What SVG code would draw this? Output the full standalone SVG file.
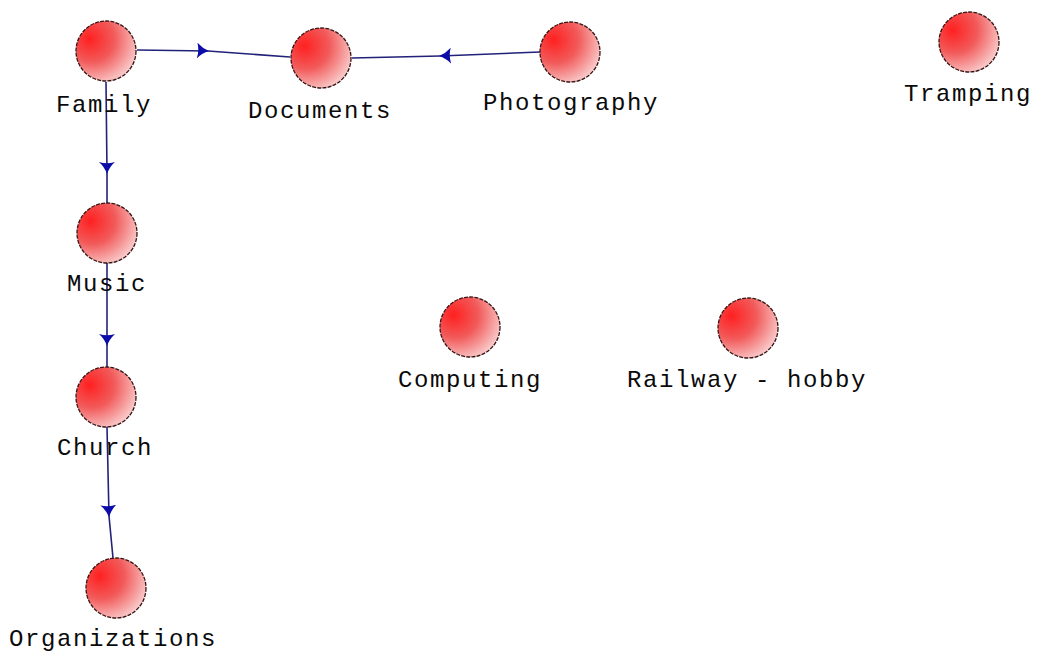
<svg xmlns="http://www.w3.org/2000/svg" width="1037" height="655" viewBox="0 0 1037 655">
  <defs>
    <radialGradient id="ball" cx="0.3" cy="0.3" r="0.85" fx="0.22" fy="0.3">
      <stop offset="0" stop-color="#ff2020"/>
      <stop offset="0.45" stop-color="#f25a5a"/>
      <stop offset="1" stop-color="#fbe0e0"/>
    </radialGradient>
    <marker id="arr" markerUnits="userSpaceOnUse" markerWidth="12" markerHeight="16" viewBox="0 0 12 16" refX="11" refY="8" orient="auto">
      <path d="M0,0 Q5,5.5 12,8 Q5,10.5 0,16 Q2.5,8 0,0 Z" fill="#0c0ca8"/>
    </marker>
    <style>
      .node circle { fill: url(#ball); stroke: #3a1414; stroke-width: 1.3; stroke-dasharray: 4 1.2; }
      .node text { font-family: "Liberation Mono", "Courier New", monospace; font-size: 24px; letter-spacing: 1.6px; fill: #0a0a0a; text-anchor: middle; }
      .conn path { fill: none; stroke: #22227a; stroke-width: 1.6; marker-mid: url(#arr); }
    </style>
  </defs>
  <rect width="1037" height="655" fill="#ffffff"/>

  <g id="connectors" class="conn">
    <path d="M137,50 L208,51 L290,57"/>
    <path d="M540,52 L440,56 L352,58"/>
    <path d="M106,82 L107,173 L107,203"/>
    <path d="M107,263 L107,345 L107,367"/>
    <path d="M107,427 L109,516 L113,558"/>
  </g>

  <g id="family" class="node">
    <circle cx="106" cy="51" r="30"/>
    <text x="104" y="112">Family</text>
  </g>
  <g id="documents" class="node">
    <circle cx="321" cy="58" r="30"/>
    <text x="320" y="118">Documents</text>
  </g>
  <g id="photography" class="node">
    <circle cx="570" cy="52" r="30"/>
    <text x="571" y="110">Photography</text>
  </g>
  <g id="tramping" class="node">
    <circle cx="969" cy="42" r="30"/>
    <text x="968" y="101">Tramping</text>
  </g>
  <g id="music" class="node">
    <circle cx="107" cy="233" r="30"/>
    <text x="107" y="291">Music</text>
  </g>
  <g id="church" class="node">
    <circle cx="106" cy="397" r="30"/>
    <text x="105" y="455">Church</text>
  </g>
  <g id="organizations" class="node">
    <circle cx="116" cy="588" r="30"/>
    <text x="113" y="646">Organizations</text>
  </g>
  <g id="computing" class="node">
    <circle cx="470" cy="327" r="30"/>
    <text x="470" y="387">Computing</text>
  </g>
  <g id="railway" class="node">
    <circle cx="748" cy="328" r="30"/>
    <text x="747" y="387">Railway - hobby</text>
  </g>
</svg>
